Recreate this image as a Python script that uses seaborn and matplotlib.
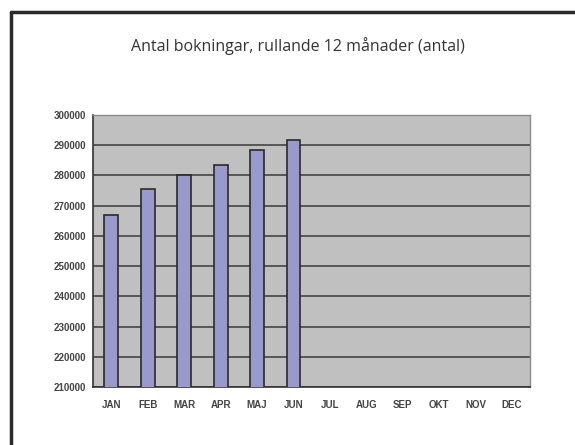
import numpy as np
import pandas as pd
import matplotlib
matplotlib.use('Agg')
import matplotlib.pyplot as plt
import seaborn as sns
from matplotlib.lines import Line2D

# Data
manader = ['JAN', 'FEB', 'MAR', 'APR', 'MAJ', 'JUN',
           'JUL', 'AUG', 'SEP', 'OKT', 'NOV', 'DEC']
bokningar = [267000, 275400, 280100, 283400, 288500, 291800,
             np.nan, np.nan, np.nan, np.nan, np.nan, np.nan]
y_ticks = list(range(210000, 300001, 10000))

df = pd.DataFrame({'manad': manader, 'antal': bokningar})

sns.set_style('white')
plt.rcParams['font.family'] = ['Liberation Sans', 'DejaVu Sans']

fig = plt.figure(figsize=(5.75, 4.45), dpi=100)
ax = fig.add_axes([0.162, 0.130, 0.760, 0.612])

sns.barplot(data=df, x='manad', y='antal', order=manader, color='#9999cc',
            saturation=1, width=0.38, edgecolor='#2a2a2a', linewidth=1.2,
            ax=ax, zorder=3)

ax.set_facecolor('#c0c0c0')
ax.set_ylim(210000, 300000)
ax.set_xlim(-0.5, 11.5)
ax.set_yticks(y_ticks)
ax.set_yticklabels([str(v) for v in y_ticks], fontsize=7, fontweight='bold', color='#444444')
ax.yaxis.grid(True, color='#3a3a3a', linewidth=1.1, zorder=1)
ax.set_axisbelow(True)

ax.set_xticks(range(len(manader)))
ax.set_xticklabels(manader, fontsize=7, fontweight='bold', color='#444444')
ax.set_xticks(np.arange(-0.5, 12, 1), minor=True)
ax.tick_params(axis='x', which='major', length=0, pad=9)
ax.tick_params(axis='x', which='minor', length=3, width=1, color='#333333', direction='out')
ax.tick_params(axis='y', length=3, width=1, color='#333333', direction='out', pad=2)
ax.set_xlabel('')
ax.set_ylabel('')

for side in ['left', 'bottom']:
    ax.spines[side].set_color('#333333')
    ax.spines[side].set_linewidth(1.2)
for side in ['top', 'right']:
    ax.spines[side].set_color('#8a8a8a')
    ax.spines[side].set_linewidth(1.0)

fig.text(0.518, 0.897, 'Antal bokningar, rullande 12 månader (antal)',
         ha='center', va='center', fontsize=11.5, color='#333333',
         family=['Open Sans', 'DejaVu Sans'])

# frame lines along top and left edge
fig.add_artist(Line2D([0.019, 1.0], [0.974, 0.974], color='#2a2a2a', linewidth=2.5,
                      transform=fig.transFigure))
fig.add_artist(Line2D([0.019, 0.019], [0.0, 0.974], color='#2a2a2a', linewidth=2.5,
                      transform=fig.transFigure))

fig.savefig('out.png', dpi=100)
